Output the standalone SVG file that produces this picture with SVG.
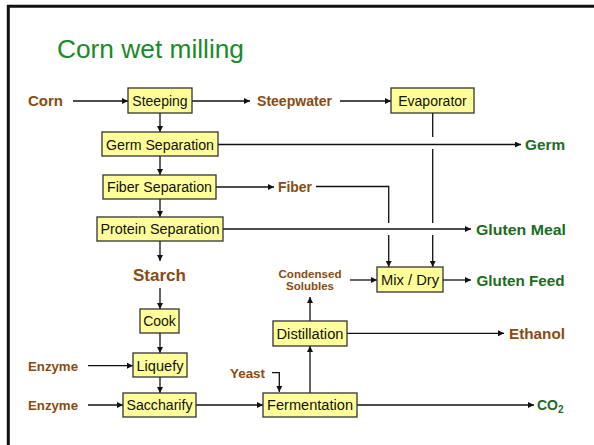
<svg xmlns="http://www.w3.org/2000/svg" width="594" height="445" viewBox="0 0 594 445">
<defs>
<marker id="ah" markerUnits="userSpaceOnUse" markerWidth="7" markerHeight="6" refX="6" refY="3" orient="auto">
<path d="M0,0 L6,3 L0,6 z" fill="#111"/>
</marker>
<style>
.box{fill:#ffff99;stroke:#333;stroke-width:1.3}
.bt{font-family:"Liberation Sans",Arial,sans-serif;font-size:14px;fill:#111;text-anchor:middle}
.br{font-family:"Liberation Sans",Arial,sans-serif;font-weight:bold;fill:#8a4b12}
.gr{font-family:"Liberation Sans",Arial,sans-serif;font-weight:bold;fill:#1d6b1d}
.ln{fill:none;stroke:#111;stroke-width:1.3}
.ar{fill:none;stroke:#111;stroke-width:1.3;marker-end:url(#ah)}
</style>
</defs>
<rect width="594" height="445" fill="#fff"/>
<path d="M8.3,445 V6.2 H594" fill="none" stroke="#111" stroke-width="3"/>
<text x="57" y="58" font-family="'Liberation Sans',Arial,sans-serif" font-size="25" fill="#1a8a2a" textLength="187" lengthAdjust="spacingAndGlyphs">Corn wet milling</text>

<g id="connectors">
<line class="ar" x1="73" y1="101" x2="128" y2="101"/>
<line class="ar" x1="192" y1="101" x2="250" y2="101"/>
<line class="ar" x1="340" y1="101" x2="391" y2="101"/>
<line class="ar" x1="160" y1="113" x2="160" y2="132"/>
<line class="ar" x1="160" y1="156" x2="160" y2="175"/>
<line class="ar" x1="160" y1="199" x2="160" y2="217"/>
<line class="ar" x1="160" y1="241" x2="160" y2="261"/>
<line class="ar" x1="160" y1="288" x2="160" y2="309"/>
<line class="ar" x1="160" y1="333" x2="160" y2="353"/>
<line class="ar" x1="160" y1="377" x2="160" y2="393"/>
<line class="ar" x1="218" y1="144.5" x2="521" y2="144.5"/>
<line class="ar" x1="216" y1="187" x2="274" y2="187"/>
<path class="ln" d="M316,186.5 H388.7 V223"/>
<line class="ar" x1="388.7" y1="235" x2="388.7" y2="267"/>
<line class="ln" x1="432.7" y1="113" x2="432.7" y2="137"/>
<line class="ln" x1="432.7" y1="149" x2="432.7" y2="223"/>
<line class="ar" x1="432.7" y1="235" x2="432.7" y2="267"/>
<line class="ar" x1="223" y1="229" x2="471" y2="229"/>
<line class="ar" x1="350" y1="280" x2="377" y2="280"/>
<line class="ar" x1="443" y1="280" x2="471" y2="280"/>
<line class="ar" x1="310" y1="321" x2="310" y2="297"/>
<line class="ar" x1="347" y1="333.3" x2="504" y2="333.3"/>
<line class="ar" x1="310" y1="393" x2="310" y2="346"/>
<line class="ar" x1="88" y1="365.7" x2="133" y2="365.7"/>
<line class="ar" x1="88" y1="405" x2="123" y2="405"/>
<line class="ar" x1="196" y1="405" x2="263" y2="405"/>
<path class="ar" d="M272,372.7 H279.3 V392"/>
<line class="ar" x1="357" y1="405" x2="534" y2="405"/>
</g>

<g id="steeping"><rect class="box" x="128" y="88" width="64" height="25"/><text class="bt" x="160" y="105.5">Steeping</text></g>
<g id="evaporator"><rect class="box" x="391" y="88" width="83" height="25"/><text class="bt" x="432.5" y="105.5">Evaporator</text></g>
<g id="germsep"><rect class="box" x="102" y="132" width="116" height="24"/><text class="bt" x="160" y="149.5" textLength="108" lengthAdjust="spacingAndGlyphs">Germ Separation</text></g>
<g id="fibersep"><rect class="box" x="103" y="175" width="113" height="24"/><text class="bt" x="159.5" y="192" textLength="105" lengthAdjust="spacingAndGlyphs">Fiber Separation</text></g>
<g id="proteinsep"><rect class="box" x="97" y="217" width="126" height="24"/><text class="bt" x="160" y="234" textLength="119" lengthAdjust="spacingAndGlyphs">Protein Separation</text></g>
<g id="mixdry"><rect class="box" x="377" y="267" width="66" height="25"/><text class="bt" x="410" y="284.5" textLength="58" lengthAdjust="spacingAndGlyphs">Mix / Dry</text></g>
<g id="cook"><rect class="box" x="140" y="309" width="39" height="24"/><text class="bt" x="159.5" y="326">Cook</text></g>
<g id="distillation"><rect class="box" x="273" y="321" width="74" height="25"/><text class="bt" x="310" y="338.5" textLength="67" lengthAdjust="spacingAndGlyphs">Distillation</text></g>
<g id="liquefy"><rect class="box" x="133" y="353" width="54" height="24"/><text class="bt" x="160" y="370.5" textLength="47" lengthAdjust="spacingAndGlyphs">Liquefy</text></g>
<g id="saccharify"><rect class="box" x="123" y="393" width="73" height="24"/><text class="bt" x="159.5" y="410" textLength="66" lengthAdjust="spacingAndGlyphs">Saccharify</text></g>
<g id="fermentation"><rect class="box" x="263" y="393" width="94" height="24"/><text class="bt" x="310" y="410" textLength="86" lengthAdjust="spacingAndGlyphs">Fermentation</text></g>

<g id="labels">
<text class="br" x="28" y="106" font-size="15" textLength="35" lengthAdjust="spacingAndGlyphs">Corn</text>
<text class="br" x="257" y="105.5" font-size="14" textLength="75" lengthAdjust="spacingAndGlyphs">Steepwater</text>
<text class="gr" x="525" y="150" font-size="15" textLength="40" lengthAdjust="spacingAndGlyphs">Germ</text>
<text class="br" x="278" y="192" font-size="14" textLength="34" lengthAdjust="spacingAndGlyphs">Fiber</text>
<text class="gr" x="476" y="234.5" font-size="15" textLength="90" lengthAdjust="spacingAndGlyphs">Gluten Meal</text>
<text class="br" x="159.5" y="281" font-size="17" text-anchor="middle" textLength="53" lengthAdjust="spacingAndGlyphs">Starch</text>
<text class="br" x="310" y="277.5" font-size="11.5" text-anchor="middle" textLength="63" lengthAdjust="spacingAndGlyphs">Condensed</text>
<text class="br" x="310" y="290" font-size="11.5" text-anchor="middle" textLength="48" lengthAdjust="spacingAndGlyphs">Solubles</text>
<text class="gr" x="476.5" y="285.5" font-size="15" textLength="88" lengthAdjust="spacingAndGlyphs">Gluten Feed</text>
<text class="br" x="509" y="338.5" font-size="15" textLength="56" lengthAdjust="spacingAndGlyphs">Ethanol</text>
<text class="br" x="28" y="371" font-size="13" textLength="50" lengthAdjust="spacingAndGlyphs">Enzyme</text>
<text class="br" x="230" y="378" font-size="13" textLength="35" lengthAdjust="spacingAndGlyphs">Yeast</text>
<text class="br" x="28" y="410" font-size="13" textLength="50" lengthAdjust="spacingAndGlyphs">Enzyme</text>
<text class="gr" x="537" y="410" font-size="14">CO<tspan font-size="10" dy="3">2</tspan></text>
</g>
</svg>
